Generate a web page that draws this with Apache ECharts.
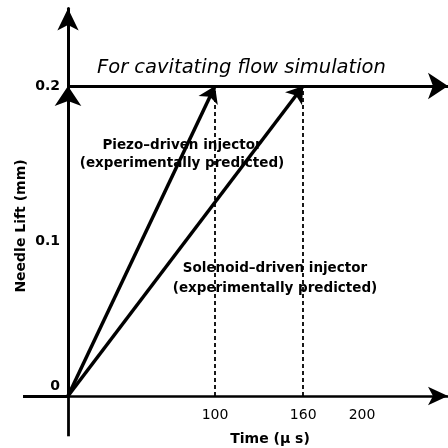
<!DOCTYPE html>
<html>
<head>
<meta charset="utf-8">
<script src="https://cdn.jsdelivr.net/npm/echarts@6/dist/echarts.min.js"></script>
<style>html,body{margin:0;padding:0;background:#fff}#c{width:448px;height:448px}</style>
</head>
<body>
<div id="c"></div>
<script>
// Data
const xTickLabels = [100, 160, 200];
const yTickLabels = [0, 0.1, 0.2];
const piezoLine = [[0, 0], [100, 0.2]];
const solenoidLine = [[0, 0], [160, 0.2]];
const simulationLevel = [[0, 0.2], [258.5, 0.2]];
const yArrowToLevel = [[0, 0], [0, 0.2]];
const piezoDrop = [[100, 0], [100, 0.2]];
const solenoidDrop = [[160, 0], [160, 0.2]];
const xAxisTail = [[-30.6, 0], [0, 0]];
const yAxisTail = [[0, -0.026], [0, 0]];

const FONT = '"DejaVu Sans", "Liberation Sans", Arial, sans-serif';
const chart = echarts.init(document.getElementById('c'), null, {renderer: 'canvas'});
chart.setOption({
  backgroundColor: '#fff',
  animation: false,
  grid: {left: 68, right: 0, top: 8.5, bottom: 52},
  xAxis: {
    type: 'value', min: 0, max: 258.5,
    splitLine: {show: false},
    axisTick: {show: false},
    axisLine: {lineStyle: {color: '#000', width: 2.5}, symbol: ['none', 'arrow'], symbolSize: [14, 20]},
    axisLabel: {customValues: xTickLabels, color: '#000', fontFamily: FONT, fontSize: 14, margin: 12}
  },
  yAxis: {
    type: 'value', min: 0, max: 0.25,
    splitLine: {show: false},
    axisTick: {show: false},
    axisLine: {lineStyle: {color: '#000', width: 3}, symbol: ['none', 'arrow'], symbolSize: [16, 22]},
    axisLabel: {
      customValues: yTickLabels, color: '#000', fontFamily: FONT, fontSize: 14, fontWeight: 'bold', margin: 8,
      formatter: v => v === 0 ? '{z|0}' : String(v),
      rich: {z: {fontFamily: FONT, fontSize: 14, fontWeight: 'bold', color: '#000', padding: [0, 0, 20, 0]}}
    }
  },
  graphic: [
    {type: 'text', z: 0, left: 97, top: 58, style: {text: 'For cavitating flow simulation', font: 'oblique 19.5px ' + FONT, fill: '#000'}},
    {type: 'text', z: 0, x: 182, y: 154, style: {text: 'Piezo\u2013driven injector\n(experimentally predicted)', font: 'bold 13.5px ' + FONT, fill: '#000', align: 'center', verticalAlign: 'middle', lineHeight: 18}},
    {type: 'text', z: 0, x: 275, y: 278, style: {text: 'Solenoid\u2013driven injector\n(experimentally predicted)', font: 'bold 13.5px ' + FONT, fill: '#000', align: 'center', verticalAlign: 'middle', lineHeight: 20}},
    {type: 'text', z: 0, x: 21, y: 226, rotation: Math.PI / 2, style: {text: 'Needle Lift (mm)', font: 'bold 14px ' + FONT, fill: '#000', align: 'center', verticalAlign: 'middle'}},
    {type: 'text', z: 0, x: 270, y: 439, style: {text: 'Time (\u00b5 s)', font: 'bold 14px ' + FONT, fill: '#000', align: 'center', verticalAlign: 'middle'}}
  ],
  series: [
    {
      type: 'lines', coordinateSystem: 'cartesian2d', z: 3, clip: false,
      symbol: ['none', 'arrow'], symbolSize: 16,
      lineStyle: {color: '#000', width: 3.5, opacity: 1},
      data: [{coords: piezoLine}, {coords: solenoidLine}]
    },
    {
      type: 'lines', coordinateSystem: 'cartesian2d', z: 3, clip: false,
      symbol: ['none', 'arrow'], symbolSize: 20,
      lineStyle: {color: '#000', width: 3, opacity: 1},
      data: [{coords: simulationLevel}, {coords: yArrowToLevel}]
    },
    {
      type: 'lines', coordinateSystem: 'cartesian2d', z: 3, clip: false,
      symbol: ['none', 'none'],
      lineStyle: {color: '#000', width: 1.8, type: [4, 3], opacity: 1},
      data: [{coords: piezoDrop}, {coords: solenoidDrop}]
    },
    {
      type: 'lines', coordinateSystem: 'cartesian2d', z: 3, clip: false,
      symbol: ['none', 'none'],
      lineStyle: {color: '#000', width: 2.8, opacity: 1},
      data: [{coords: xAxisTail}, {coords: yAxisTail}]
    }
  ]
});
</script>
</body>
</html>
